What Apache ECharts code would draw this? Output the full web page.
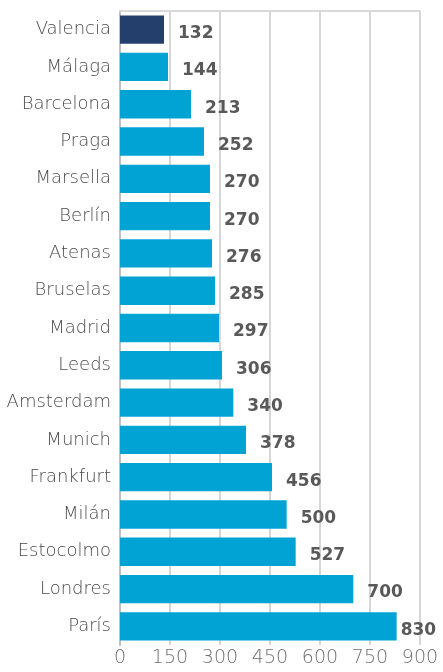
<!DOCTYPE html>
<html>
<head>
<meta charset="utf-8">
<script src="https://cdn.jsdelivr.net/npm/echarts@6/dist/echarts.min.js"></script>
<style>
  html, body { margin: 0; padding: 0; background: #fff; }
  #chart { width: 443px; height: 672px; }
</style>
</head>
<body>
<div id="chart"></div>
<script>
// datos (de arriba a abajo)
const cities = ['Valencia', 'Málaga', 'Barcelona', 'Praga', 'Marsella', 'Berlín', 'Atenas', 'Bruselas',
  'Madrid', 'Leeds', 'Amsterdam', 'Munich', 'Frankfurt', 'Milán', 'Estocolmo', 'Londres', 'París'];
const values = [132, 144, 213, 252, 270, 270, 276, 285, 297, 306, 340, 378, 456, 500, 527, 700, 830];
const highlight = 'Valencia';

const thinFont = '"DejaVu Sans ExtraLight", "DejaVu Sans"';

const chart = echarts.init(document.getElementById('chart'));

const option = {
  animation: false,
  grid: { left: 120, right: 23, top: 11, bottom: 27, containLabel: false },
  xAxis: [{
    type: 'value',
    min: 0,
    max: 900,
    interval: 150,
    axisLine: { show: false },
    axisTick: { show: false },
    axisLabel: { color: '#6f6f6f', fontSize: 19, fontFamily: thinFont, fontWeight: 200, margin: 4 },
    splitLine: { lineStyle: { color: '#c9c9c9', width: 1.5 } }
  }, {
    // borde superior
    type: 'value',
    position: 'top',
    min: 0,
    max: 900,
    axisLine: { show: true, lineStyle: { color: '#d9d9d9', width: 2 } },
    axisTick: { show: false },
    axisLabel: { show: false },
    splitLine: { show: false }
  }],
  yAxis: [{
    type: 'category',
    inverse: true,
    data: cities,
    axisLine: { show: true, lineStyle: { color: '#bfbfbf', width: 2 } },
    axisTick: { show: false },
    axisLabel: { color: '#4a4a4a', fontSize: 18, fontFamily: thinFont, fontWeight: 200, margin: 9, padding: [6, 0, 0, 0] }
  }, {
    // borde derecho
    type: 'category',
    position: 'right',
    inverse: true,
    data: cities,
    axisLine: { show: true, lineStyle: { color: '#c0c0c0', width: 2 } },
    axisTick: { show: false },
    axisLabel: { show: false }
  }],
  series: [{
    type: 'bar',
    barWidth: '76%',
    data: values.map((v, i) => {
      const item = { value: v, itemStyle: { color: cities[i] === highlight ? '#253f6c' : '#00a3d4' } };
      if (v === 830) item.label = { distance: 4 };
      return item;
    }),
    label: {
      show: true,
      position: 'right',
      distance: 14,
      offset: [0, 4],
      color: '#595959',
      fontSize: 17,
      fontWeight: 'bold',
      fontFamily: 'DejaVu Sans'
    }
  }]
};
chart.setOption(option);
</script>
</body>
</html>
